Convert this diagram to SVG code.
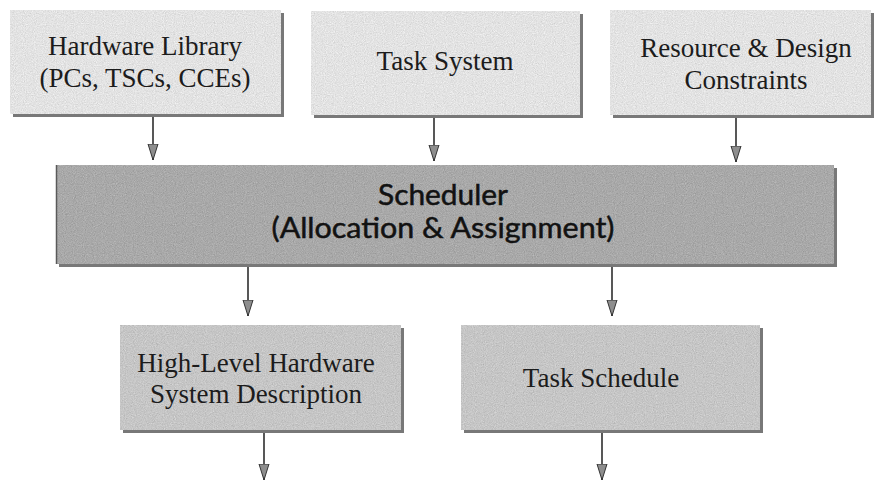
<svg xmlns="http://www.w3.org/2000/svg" width="874" height="483" viewBox="0 0 874 483">
  <style>
    .serif { font-family: "Liberation Serif", "Times New Roman", serif; font-size: 27px; fill: #1c1c1c; text-anchor: middle; }
    .sans { font-family: Lato, "Open Sans", "DejaVu Sans", sans-serif; font-size: 28px; fill: #121212; stroke: #121212; stroke-width: 0.5; text-anchor: middle; }
    .shadow { fill: #787878; }
    .light { fill: #e3e3e3; }
    .mid { fill: #c6c6c6; }
    .dark { fill: #a9a9a9; }
    .wire { stroke: #3a3a3a; stroke-width: 1.7; fill: none; marker-end: url(#ah); }
  </style>
  <defs>
    <!-- fine print grain over the box fills -->
    <filter id="grain" x="0" y="0" width="100%" height="100%" color-interpolation-filters="sRGB">
      <feTurbulence type="fractalNoise" baseFrequency="0.9" numOctaves="2" seed="7" result="noise"/>
      <feColorMatrix in="noise" type="matrix" values="0.33 0.33 0.33 0 0  0.33 0.33 0.33 0 0  0.33 0.33 0.33 0 0  0 0 0 0 1" result="gray"/>
      <feComposite in="SourceGraphic" in2="gray" operator="arithmetic" k1="0" k2="1" k3="0.34" k4="-0.17" result="mix"/>
      <feComposite in="mix" in2="SourceGraphic" operator="in"/>
    </filter>
    <marker id="ah" markerUnits="userSpaceOnUse" markerWidth="18" markerHeight="13" refX="16" refY="5.5" orient="auto">
      <path d="M0,0.5 L16,5.5 L0,10.5 z" fill="#8e8e8e" stroke="#333" stroke-width="1"/>
    </marker>
  </defs>

  <g id="hardware-library">
    <rect class="shadow" x="13" y="13" width="271" height="104"/>
    <rect class="light" x="10" y="10" width="271" height="104" filter="url(#grain)"/>
    <text class="serif" x="145" y="55">Hardware Library</text>
    <text class="serif" x="145" y="87">(PCs, TSCs, CCEs)</text>
  </g>

  <g id="task-system">
    <rect class="shadow" x="314" y="14" width="269" height="104"/>
    <rect class="light" x="311" y="11" width="269" height="104" filter="url(#grain)"/>
    <text class="serif" x="445" y="70">Task System</text>
  </g>

  <g id="constraints">
    <rect class="shadow" x="613" y="13" width="261" height="105"/>
    <rect class="light" x="610" y="10" width="261" height="105" filter="url(#grain)"/>
    <text class="serif" x="746" y="57">Resource &amp; Design</text>
    <text class="serif" x="746" y="89">Constraints</text>
  </g>

  <g id="scheduler">
    <rect class="shadow" x="59" y="168" width="778" height="99"/>
    <rect class="dark" x="56" y="165" width="778" height="99" filter="url(#grain)"/>
    <line x1="56.5" y1="165" x2="56.5" y2="264" stroke="#5a5a5a" stroke-width="1.5"/>
    <text class="sans" x="443" y="205" textLength="130" lengthAdjust="spacingAndGlyphs">Scheduler</text>
    <text class="sans" x="443" y="238" textLength="343" lengthAdjust="spacingAndGlyphs">(Allocation &amp; Assignment)</text>
  </g>

  <g id="hw-description">
    <rect class="shadow" x="123" y="328" width="281" height="105"/>
    <rect class="mid" x="120" y="325" width="281" height="105" filter="url(#grain)"/>
    <text class="serif" x="256" y="372">High-Level Hardware</text>
    <text class="serif" x="256" y="403">System Description</text>
  </g>

  <g id="task-schedule">
    <rect class="shadow" x="464" y="328" width="299" height="105"/>
    <rect class="mid" x="461" y="325" width="299" height="105" filter="url(#grain)"/>
    <text class="serif" x="601" y="387">Task Schedule</text>
  </g>

  <g id="connectors">
    <line class="wire" x1="153" y1="117" x2="153" y2="160"/>
    <line class="wire" x1="434" y1="118" x2="434" y2="161"/>
    <line class="wire" x1="736" y1="118" x2="736" y2="162"/>
    <line class="wire" x1="248" y1="267" x2="248" y2="316"/>
    <line class="wire" x1="612" y1="267" x2="612" y2="316"/>
    <line class="wire" x1="264" y1="433" x2="264" y2="480"/>
    <line class="wire" x1="602" y1="433" x2="602" y2="480"/>
  </g>
</svg>
